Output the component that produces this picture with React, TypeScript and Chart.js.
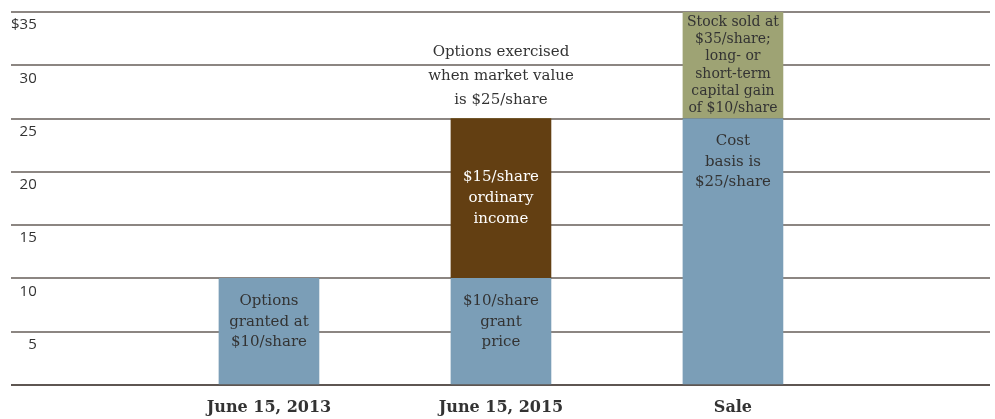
import React, { useEffect, useRef } from 'react';
import { Chart, registerables } from 'chart.js';

Chart.register(...registerables);

// ---- data ----
const categories = ['June 15, 2013', 'June 15, 2015', 'Sale'];
const costBasis = [10, 10, 25];
const ordinaryIncome = [0, 15, 0];
const capitalGain = [0, 0, 10];
const yTickValues = [0, 5, 10, 15, 20, 25, 30, 35];
const yTickLabels = ['', '5', '10', '15', '20', '25', '30', '$35'];

const labelGrant = ['Options', 'granted at', '$10/share'];
const labelGrantPrice = ['$10/share', 'grant', 'price'];
const labelOrdinary = ['$15/share', 'ordinary', 'income'];
const labelCostBasis = ['Cost', 'basis is', '$25/share'];
const labelGain = ['Stock sold at', '$35/share;', 'long- or', 'short-term', 'capital gain', 'of $10/share'];
const labelExercise = ['Options exercised', 'when market value', 'is $25/share'];

// ---- styles ----
const BLUE = '#7b9eb7';
const BROWN = '#633f12';
const GREEN = '#9ea374';
const TEXT = '#333333';
const SERIF = '"DejaVu Serif", serif';

type Ann = {
  ds: number;
  idx: number;
  lines: string[];
  mode: 'top' | 'center' | 'above';
  color: string;
  size: number;
  lh: number;
};

const annotations: Ann[] = [
  { ds: 0, idx: 0, lines: labelGrant, mode: 'top', color: TEXT, size: 15, lh: 20.5 },
  { ds: 0, idx: 1, lines: labelGrantPrice, mode: 'top', color: TEXT, size: 15, lh: 20.5 },
  { ds: 1, idx: 1, lines: labelOrdinary, mode: 'center', color: '#ffffff', size: 15, lh: 21 },
  { ds: 0, idx: 2, lines: labelCostBasis, mode: 'top', color: TEXT, size: 15, lh: 20.5 },
  { ds: 2, idx: 2, lines: labelGain, mode: 'center', color: TEXT, size: 14, lh: 17.2 },
  { ds: 1, idx: 1, lines: labelExercise, mode: 'above', color: TEXT, size: 15, lh: 24 },
];

const labelPlugin = {
  id: 'barLabels',
  afterDatasetsDraw(chart: any) {
    const ctx = chart.ctx;
    ctx.save();
    ctx.textAlign = 'center';
    ctx.textBaseline = 'middle';
    annotations.forEach((a) => {
      const el = chart.getDatasetMeta(a.ds).data[a.idx] as any;
      if (!el) return;
      const top = Math.min(el.y, el.base);
      const bottom = Math.max(el.y, el.base);
      const n = a.lines.length;
      let firstY: number;
      if (a.mode === 'top') firstY = top + 23;
      else if (a.mode === 'center') firstY = (top + bottom) / 2 - ((n - 1) * a.lh) / 2;
      else firstY = top - 18 - (n - 1) * a.lh;
      ctx.fillStyle = a.color;
      ctx.font = `${a.size}px ${SERIF}`;
      a.lines.forEach((line, i) => {
        ctx.fillText(line, el.x, firstY + i * a.lh);
      });
    });
    ctx.restore();
  },
};

export default function App() {
  const ref = useRef<HTMLCanvasElement | null>(null);

  useEffect(() => {
    document.body.style.margin = '0';
    if (!ref.current) return;
    const toPts = (arr: number[]) => arr.map((v, i) => ({ x: i, y: v }));
    const chart = new Chart(ref.current, {
      type: 'bar',
      data: {
        datasets: [
          { label: 'Cost basis', data: toPts(costBasis), backgroundColor: BLUE, barThickness: 100 },
          { label: 'Ordinary income', data: toPts(ordinaryIncome), backgroundColor: BROWN, barThickness: 100 },
          { label: 'Capital gain', data: toPts(capitalGain), backgroundColor: GREEN, barThickness: 100 },
        ],
      },
      plugins: [labelPlugin],
      options: {
        animation: false,
        responsive: true,
        maintainAspectRatio: false,
        layout: { padding: { left: 11, right: 5, top: 12, bottom: 2 } },
        plugins: { legend: { display: false }, tooltip: { enabled: false } },
        scales: {
          x: {
            type: 'linear',
            stacked: true,
            offset: false,
            min: -1.112,
            max: 3.108,
            grid: { display: false, drawTicks: false },
            border: { display: false },
            afterBuildTicks: (scale: any) => {
              scale.ticks = categories.map((_, i) => ({ value: i }));
            },
            afterFit: (scale: any) => {
              scale.height = 32;
            },
            ticks: {
              autoSkip: false,
              maxRotation: 0,
              padding: 13,
              color: TEXT,
              font: { family: SERIF, size: 16, weight: 'bold' },
              callback: (v: any) => categories[Number(v)] ?? '',
            },
          },
          y: {
            stacked: true,
            min: 0,
            max: 35,
            afterBuildTicks: (scale: any) => {
              scale.ticks = yTickValues.map((v) => ({ value: v }));
            },
            border: { display: false },
            grid: {
              drawTicks: false,
              lineWidth: 2,
              color: (c: any) => (c.tick && c.tick.value === 0 ? '#5e5652' : '#8c8682'),
            },
            ticks: {
              mirror: true,
              crossAlign: 'far',
              padding: 0,
              labelOffset: 13,
              color: TEXT,
              font: { family: '"Open Sans", sans-serif', size: 15 },
              callback: (v: any) => yTickLabels[yTickValues.indexOf(Number(v))] ?? '',
            },
          },
        },
      } as any,
    });
    return () => chart.destroy();
  }, []);

  return (
    <div style={{ width: '995px', height: '419px', position: 'relative' }}>
      <canvas ref={ref} />
    </div>
  );
}
